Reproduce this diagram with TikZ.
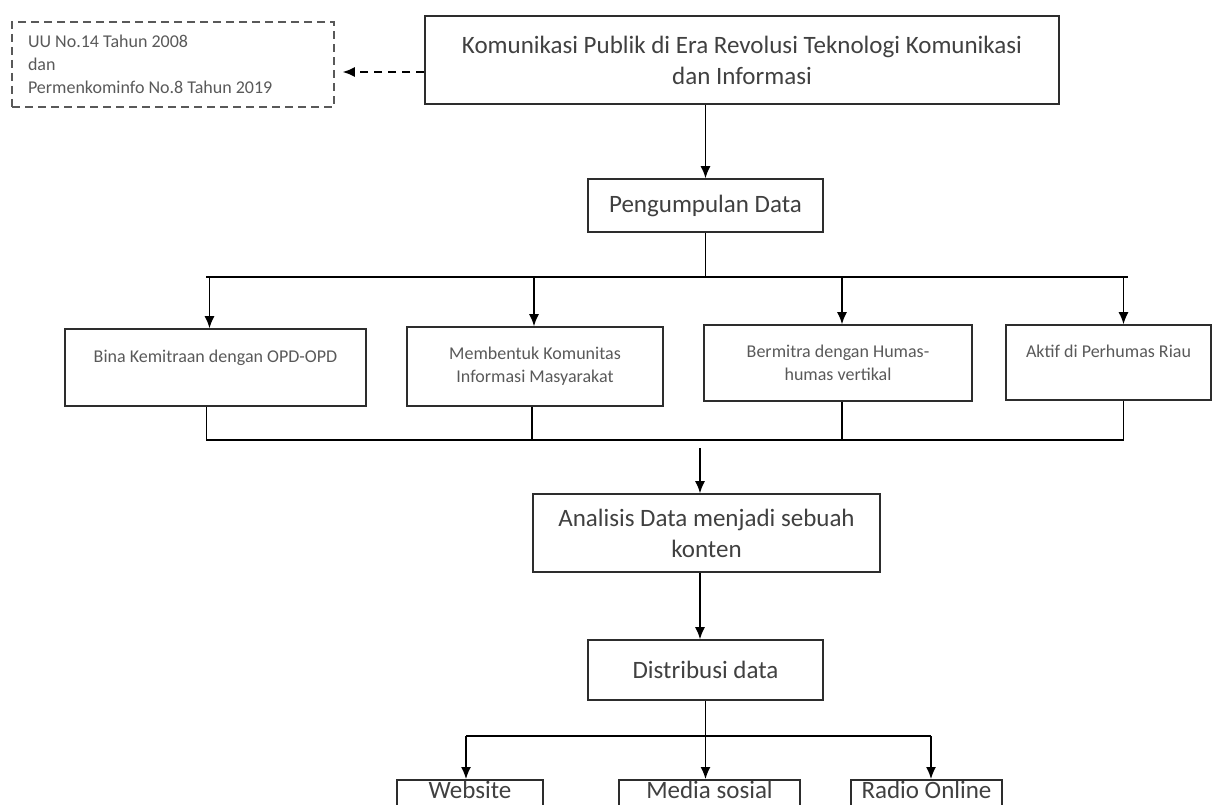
\documentclass[tikz,border=0pt]{standalone}
\usepackage{fontspec, tikz}
\usetikzlibrary{arrows.meta}
\setmainfont{Carlito}
\definecolor{teks}{RGB}{64,64,64}
\definecolor{teksabu}{RGB}{89,89,89}
\definecolor{bingkai}{RGB}{45,45,45}
\newcommand{\hurufbesar}{\fontsize{25}{31}\selectfont}
\newcommand{\hurufkecil}{\fontsize{18}{23}\selectfont}

\begin{document}
\begin{tikzpicture}[x=1pt,y=-1pt,>={Latex[length=12pt,width=10pt]},
kotak/.style={draw=bingkai,line width=1.6pt,text=teks,font=\hurufbesar,align=center,inner sep=0pt},
kotakkecil/.style={draw=bingkai,line width=1.6pt,text=teksabu,font=\hurufkecil,align=center,inner sep=0pt},
kotakbawah/.style={kotak,anchor=north,text height=19pt,text depth=40pt},
garis/.style={line width=1.4pt}]
\useasboundingbox (0,0) rectangle (1213,805);
\clip (0,0) rectangle (1213,805);
\node[kotak,minimum width=634,minimum height=88] (kom)at(742,60){Komunikasi Publik di Era Revolusi Teknologi Komunikasi\\dan Informasi};
\node[kotakkecil,draw=teksabu,dash pattern=on 8pt off 5pt,minimum width=322,minimum height=85,text width=290,align=left] (uu)at(173,64.5){\spaceskip=0pt UU No.14 Tahun 2008\\dan\\Permenkominfo No.8 Tahun 2019};
\draw[garis,->,dash pattern=on 8pt off 6pt,shorten >=8pt] ([yshift=-12pt]kom.west) -- ([yshift=-12pt]kom.west -| uu.east);
\node[kotak,minimum width=235,minimum height=53] (kumpul)at(705.5,205.5){Pengumpulan Data};
\draw[garis,->] (kom.south -| kumpul) -- (kumpul.north);
\node[kotakkecil,minimum width=301,minimum height=77] (bina)at(215.5,367.5){Bina Kemitraan dengan OPD-OPD\\\mbox{}};
\node[kotakkecil,minimum width=256,minimum height=79] (kim)at(535,366.5){Membentuk Komunitas\\Informasi Masyarakat};
\node[kotakkecil,minimum width=268,minimum height=76] (humas)at(838,363){Bermitra dengan Humas-\\humas vertikal};
\node[kotakkecil,minimum width=205,minimum height=75] (perhumas)at(1108.5,362.5){Aktif di Perhumas Riau\\\mbox{}};
\coordinate (atasKiri)at(206,277);
\coordinate (atasKanan)at(1128,277);
\draw[garis] (kumpul.south) -- (kumpul.south |- atasKiri);
\draw[garis] (atasKiri) -- (atasKanan);
\foreach \n/\dx in {bina/-6,kim/-1,humas/4,perhumas/15}
  \draw[garis,->] ([xshift=\dx pt]\n.north |- atasKiri) -- ([xshift=\dx pt]\n.north);
\coordinate (bawahKiri)at(206,440);
\coordinate (bawahKanan)at(1124,440);
\draw[garis] (bawahKiri) -- (bawahKanan);
\foreach \n/\dx in {bina/-9,kim/-3,humas/4,perhumas/15}
  \draw[garis] ([xshift=\dx pt]\n.south) -- ([xshift=\dx pt]\n.south |- bawahKiri);
\node[kotak,minimum width=347,minimum height=78] (analisis)at(706.5,533){Analisis Data menjadi sebuah\\konten};
\coordinate (turun)at(700,448);
\draw[garis,->] (turun) -- (turun |- analisis.north);
\node[kotak,minimum width=235,minimum height=60] (distribusi)at(705.5,670){Distribusi data};
\draw[garis,->] (analisis.south -| turun) -- (turun |- distribusi.north);
\node[kotakbawah,minimum width=146] (web)at(470,779){Website};
\node[kotakbawah,minimum width=181] (medsos)at(709.5,779){Media sosial};
\node[kotakbawah,minimum width=151] (radio)at(926.5,779){Radio Online};
\coordinate (kiri)at(466,736);
\coordinate (kanan)at(931,736);
\draw[garis] (kiri) -- (kanan);
\draw[garis,->] (distribusi.south) -- (distribusi.south |- medsos.north);
\draw[garis,->] (kiri) -- (kiri |- web.north);
\draw[garis,->] (kanan) -- (kanan |- radio.north);
\end{tikzpicture}
\end{document}
